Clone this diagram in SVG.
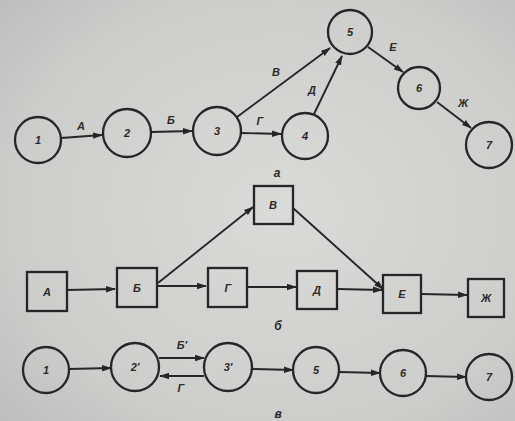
<svg xmlns="http://www.w3.org/2000/svg" width="515" height="421" viewBox="0 0 515 421">
  <defs>
    <radialGradient id="paper" cx="0.55" cy="0.5" r="0.75">
      <stop offset="0" stop-color="#dadad8"/>
      <stop offset="0.7" stop-color="#cdcdcb"/>
      <stop offset="1" stop-color="#bcbdbe"/>
    </radialGradient>
    <marker id="arr" markerWidth="10" markerHeight="8" refX="9" refY="4" orient="auto" markerUnits="userSpaceOnUse">
      <path d="M0,0.8 L10,4 L0,7.2 Z" fill="#262626"/>
    </marker>
    <style>
      .node circle, .node rect { fill: none; stroke: #262626; stroke-width: 2.3; }
      .edge { stroke: #262626; stroke-width: 1.9; fill: none; marker-end: url(#arr); }
      text { font-family: "Liberation Sans", Arial, sans-serif; font-style: italic; font-weight: bold; font-size: 11px; fill: #2a2a2a; text-anchor: middle; }
      .cap { font-size: 12px; }
    </style>
  </defs>

  <rect width="515" height="421" fill="url(#paper)"/>

  <!-- Network (a): events in circles, activities on arrows -->
  <g id="connectors-a">
    <line class="edge" x1="61" y1="138" x2="102" y2="135"/>
    <line class="edge" x1="151" y1="132" x2="192" y2="131"/>
    <line class="edge" x1="237" y1="117" x2="330" y2="48"/>
    <line class="edge" x1="241" y1="133" x2="281" y2="134"/>
    <line class="edge" x1="314" y1="114" x2="342" y2="56"/>
    <line class="edge" x1="368" y1="47" x2="403" y2="72"/>
    <line class="edge" x1="437" y1="102" x2="471" y2="128"/>
    <text x="81" y="130">А</text>
    <text x="171" y="124">Б</text>
    <text x="276" y="76">В</text>
    <text x="260" y="125">Г</text>
    <text x="312" y="94">Д</text>
    <text x="393" y="51">Е</text>
    <text x="463" y="107">Ж</text>
  </g>
  <g id="a1" class="node"><circle cx="38" cy="140" r="23"/><text x="38" y="144">1</text></g>
  <g id="a2" class="node"><circle cx="127" cy="133" r="24"/><text x="127" y="137">2</text></g>
  <g id="a3" class="node"><circle cx="217" cy="131" r="24"/><text x="217" y="135">3</text></g>
  <g id="a4" class="node"><circle cx="305" cy="136" r="23"/><text x="305" y="140">4</text></g>
  <g id="a5" class="node"><circle cx="350" cy="32" r="22"/><text x="350" y="36">5</text></g>
  <g id="a6" class="node"><circle cx="419" cy="88" r="21"/><text x="419" y="92">6</text></g>
  <g id="a7" class="node"><circle cx="489" cy="145" r="23"/><text x="489" y="149">7</text></g>
  <text class="cap" x="277" y="177">а</text>

  <!-- Network (b): activities in boxes -->
  <g id="connectors-b">
    <line class="edge" x1="67" y1="290" x2="115" y2="289"/>
    <line class="edge" x1="157" y1="286" x2="206" y2="286"/>
    <line class="edge" x1="158" y1="283" x2="253" y2="207"/>
    <line class="edge" x1="247" y1="287" x2="296" y2="287"/>
    <line class="edge" x1="293" y1="208" x2="383" y2="289"/>
    <line class="edge" x1="337" y1="289" x2="382" y2="290"/>
    <line class="edge" x1="421" y1="294" x2="467" y2="295"/>
  </g>
  <g id="bA" class="node"><rect x="27" y="272" width="40" height="39"/><text x="47" y="296">А</text></g>
  <g id="bB" class="node"><rect x="117" y="268" width="40" height="39"/><text x="137" y="292">Б</text></g>
  <g id="bG" class="node"><rect x="208" y="268" width="39" height="39"/><text x="228" y="292">Г</text></g>
  <g id="bV" class="node"><rect x="254" y="186" width="39" height="38"/><text x="273" y="209">В</text></g>
  <g id="bD" class="node"><rect x="297" y="271" width="40" height="38"/><text x="317" y="294">Д</text></g>
  <g id="bE" class="node"><rect x="383" y="275" width="38" height="38"/><text x="402" y="298">Е</text></g>
  <g id="bZh" class="node"><rect x="468" y="279" width="36" height="38"/><text x="486" y="302">Ж</text></g>
  <text class="cap" x="278" y="330">б</text>

  <!-- Network (c): merged events with a loop -->
  <g id="connectors-c">
    <line class="edge" x1="69" y1="369" x2="111" y2="368"/>
    <line class="edge" x1="159" y1="358" x2="204" y2="358"/>
    <line class="edge" x1="204" y1="376" x2="160" y2="376"/>
    <line class="edge" x1="252" y1="369" x2="293" y2="370"/>
    <line class="edge" x1="339" y1="372" x2="380" y2="373"/>
    <line class="edge" x1="426" y1="376" x2="466" y2="377"/>
    <text x="182" y="349">Б'</text>
    <text x="181" y="392">Г</text>
  </g>
  <g id="c1" class="node"><circle cx="46" cy="370" r="23"/><text x="46" y="374">1</text></g>
  <g id="c2" class="node"><circle cx="135" cy="367" r="24"/><text x="135" y="371">2'</text></g>
  <g id="c3" class="node"><circle cx="228" cy="367" r="24"/><text x="228" y="371">3'</text></g>
  <g id="c5" class="node"><circle cx="316" cy="370" r="23"/><text x="316" y="374">5</text></g>
  <g id="c6" class="node"><circle cx="403" cy="373" r="23"/><text x="403" y="377">6</text></g>
  <g id="c7" class="node"><circle cx="489" cy="377" r="23"/><text x="489" y="381">7</text></g>
  <text class="cap" x="278" y="418">в</text>
</svg>
